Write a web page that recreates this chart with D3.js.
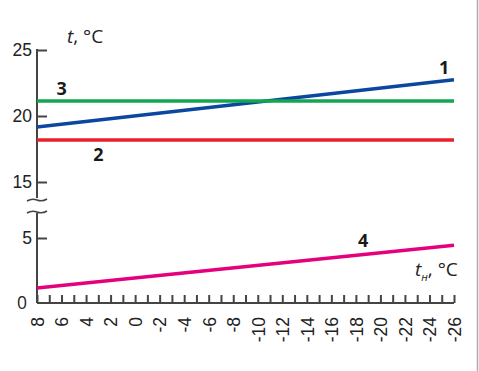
<!DOCTYPE html>
<html>
<head>
<meta charset="utf-8">
<script src="https://cdn.jsdelivr.net/npm/d3@7"></script>
<style>
  body { margin: 0; background: #fff; }
  svg { display: block; font-family: "Open Sans", "Noto Sans", sans-serif; }
  .axis text { font-size: 17.5px; fill: #222; }
  .axis line, .axis path { stroke: #444; stroke-width: 2; }
</style>
</head>
<body>
<svg id="chart" width="479" height="371"></svg>
<script>
// outdoor temperature, °C (x axis runs from +8 down to -26)
var outdoor = [8, -26];
var line1 = [19.17, 22.75];   // blue
var line2 = [18.18, 18.18];   // red
var line3 = [21.14, 21.14];   // green
var line4 = [1.15, 4.45];     // magenta
var yTicksUpper = [15, 20, 25];
var yTicksLower = [0, 5];
var xTicks = d3.range(8, -27, -1);
var xLabels = d3.range(8, -27, -2);

var series = [
  {name: '1', values: line1, color: '#0a48a0', part: 'upper', lx: -25.2, ly: 23.2},
  {name: '2', values: line2, color: '#e8202a', part: 'upper', lx: 3, ly: 16.6},
  {name: '3', values: line3, color: '#12a650', part: 'upper', lx: 6, ly: 21.6},
  {name: '4', values: line4, color: '#e5007e', part: 'lower', lx: -18.6, ly: 4.3}
];

var svg = d3.select('#chart');

var x = d3.scaleLinear().domain([8, -26]).range([37, 454]);
var yUpper = d3.scaleLinear().domain([15, 25]).range([182, 50]);
var yLower = d3.scaleLinear().domain([0, 5]).range([303, 238]);

// right frame edge
svg.append('line')
  .attr('x1', 477.5).attr('x2', 477.5)
  .attr('y1', 0).attr('y2', 371)
  .attr('stroke', '#aaa').attr('stroke-width', 1.5);

// y axis, upper part
var gU = svg.append('g').attr('class', 'axis')
  .attr('transform', 'translate(37,0)')
  .call(d3.axisLeft(yUpper).tickValues(yTicksUpper).tickSizeInner(-10).tickSizeOuter(0).tickPadding(5).tickFormat(d3.format('d')));
gU.select('.domain').remove();

var gL = svg.append('g').attr('class', 'axis')
  .attr('transform', 'translate(37,0)')
  .call(d3.axisLeft(yLower).tickValues(yTicksLower.filter(function(d){ return d > 0; })).tickSizeInner(-10).tickSizeOuter(0).tickPadding(5).tickFormat(d3.format('d')));
gL.select('.domain').remove();

// y zero label
svg.append('text')
  .attr('x', 27).attr('y', yLower(0)).attr('dy', '0.32em')
  .attr('text-anchor', 'end')
  .style('font-size', '17.5px').style('fill', '#222')
  .text('0');

// y axis lines with break
svg.append('line')
  .attr('x1', 37).attr('x2', 37)
  .attr('y1', yUpper(25) - 1).attr('y2', yUpper(15) + 16)
  .attr('stroke', '#444').attr('stroke-width', 2);
svg.append('line')
  .attr('x1', 37).attr('x2', 37)
  .attr('y1', yUpper(15) + 31).attr('y2', yLower(0))
  .attr('stroke', '#444').attr('stroke-width', 2);

// break marks
[yUpper(15) + 18, yUpper(15) + 30].forEach(function(by){
  svg.append('path')
    .attr('d', 'M27,' + (by + 1) + ' Q32,' + (by - 2) + ' 37,' + by + ' Q42,' + (by + 2) + ' 47,' + (by - 1))
    .attr('fill', 'none')
    .attr('stroke', '#444')
    .attr('stroke-width', 1.6);
});

// x axis
var gX = svg.append('g').attr('class', 'axis')
  .attr('transform', 'translate(0,' + yLower(0) + ')')
  .call(d3.axisBottom(x).tickValues(xTicks).tickSizeInner(-8).tickSizeOuter(0).tickFormat(function(d){
    return xLabels.indexOf(d) >= 0 ? String(d) : '';
  }));
gX.select('.domain').attr('d', 'M' + x(8) + ',0H' + x(-26));
gX.selectAll('text')
  .attr('transform', 'rotate(-90)')
  .attr('text-anchor', 'end')
  .attr('x', -14)
  .attr('y', 0)
  .attr('dy', '0.36em');

// series lines
series.forEach(function(s){
  var y = s.part === 'upper' ? yUpper : yLower;
  var pts = outdoor.map(function(t, i){ return [t, s.values[i]]; });
  svg.append('path')
    .datum(pts)
    .attr('d', d3.line().x(function(d){ return x(d[0]); }).y(function(d){ return y(d[1]); }))
    .attr('fill', 'none')
    .attr('stroke', s.color)
    .attr('stroke-width', 3.5);
  svg.append('text')
    .attr('x', x(s.lx)).attr('y', y(s.ly))
    .attr('text-anchor', 'middle')
    .style('font-size', '18px').style('font-weight', 'bold').style('fill', '#1a1a1a')
    .text(s.name);
});

// axis titles
var t1 = svg.append('text').attr('x', 67).attr('y', 43)
  .style('font-size', '19px').style('fill', '#222');
t1.append('tspan').style('font-style', 'italic').text('t');
t1.append('tspan').text(', °C');

var t2 = svg.append('text').attr('x', 415).attr('y', 276)
  .style('font-size', '19px').style('fill', '#222');
t2.append('tspan').style('font-style', 'italic').text('t');
t2.append('tspan').style('font-style', 'italic').style('font-size', '11px').attr('dy', 5).text('н');
t2.append('tspan').attr('dy', -5).text(', °C');
</script>
</body>
</html>
